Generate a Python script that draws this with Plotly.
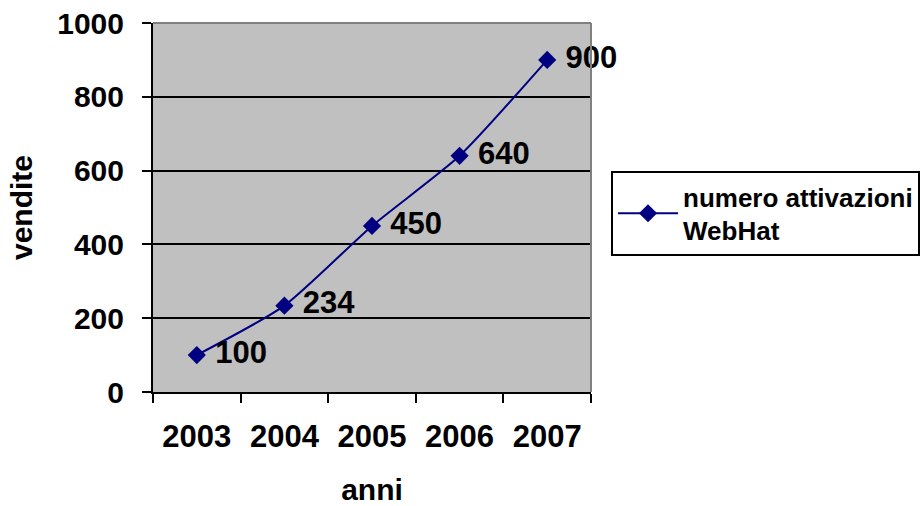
import plotly.graph_objects as go

# Annual activations of WebHat
anni = ["2003", "2004", "2005", "2006", "2007"]
attivazioni = [100, 234, 450, 640, 900]
y_ticks = [0, 200, 400, 600, 800, 1000]

FONT = "Liberation Sans, Arial, sans-serif"
NBSP = "\u00a0"

fig = go.Figure()
fig.add_trace(go.Scatter(
    x=anni,
    y=attivazioni,
    mode="lines+markers+text",
    name="<b>numero attivazioni<br>WebHat</b>",
    line=dict(color="#000080", width=2, shape="spline", smoothing=0.6),
    marker=dict(symbol="diamond", size=14, color="#000080"),
    text=[f"<b>{NBSP}{v}</b>" for v in attivazioni],
    textposition="middle right",
    textfont=dict(family=FONT, size=31, color="#000000"),
    cliponaxis=False,
))

fig.update_layout(
    width=920,
    height=506,
    margin=dict(l=153, r=329, t=23, b=114, autoexpand=False),
    paper_bgcolor="#FFFFFF",
    plot_bgcolor="#C0C0C0",
    font=dict(family=FONT, color="#000000"),
    showlegend=True,
    legend=dict(
        x=1.0457, y=0.599, xanchor="left", yanchor="top",
        bgcolor="#FFFFFF", bordercolor="#000000", borderwidth=2,
        itemwidth=60,
        font=dict(family=FONT, size=26, color="#000000"),
    ),
    xaxis=dict(
        type="category",
        range=[-0.5, 4.5],
        tickson="boundaries",
        ticks="outside", ticklen=9, tickwidth=2, tickcolor="#000000",
        showline=True, linecolor="#000000", linewidth=2,
        showgrid=False,
        tickfont=dict(family=FONT, size=31, color="#000000"),
        tickprefix="<b>", ticksuffix="</b>",
        ticklabelstandoff=16,
        title=dict(text="<b>anni</b>", font=dict(family=FONT, size=30), standoff=28),
    ),
    yaxis=dict(
        range=[0, 1000],
        tickvals=y_ticks,
        ticktext=[f"<b>{v}</b>" for v in y_ticks],
        ticks="outside", ticklen=9, tickwidth=2, tickcolor="#000000",
        showline=True, linecolor="#000000", linewidth=2,
        showgrid=True, gridcolor="#000000", gridwidth=2,
        zeroline=False,
        tickfont=dict(family=FONT, size=30, color="#000000"),
        ticklabelstandoff=12,
        title=dict(text="<b>vendite</b>", font=dict(family=FONT, size=30), standoff=16),
    ),
    shapes=[
        # grey frame on the top and right edges of the plot area
        dict(type="line", xref="paper", yref="paper", x0=0, x1=1, y0=1, y1=1,
             line=dict(color="#808080", width=2), layer="above"),
        dict(type="line", xref="paper", yref="paper", x0=1, x1=1, y0=0, y1=1,
             line=dict(color="#808080", width=2), layer="above"),
    ],
)

fig.write_html("out.html")
